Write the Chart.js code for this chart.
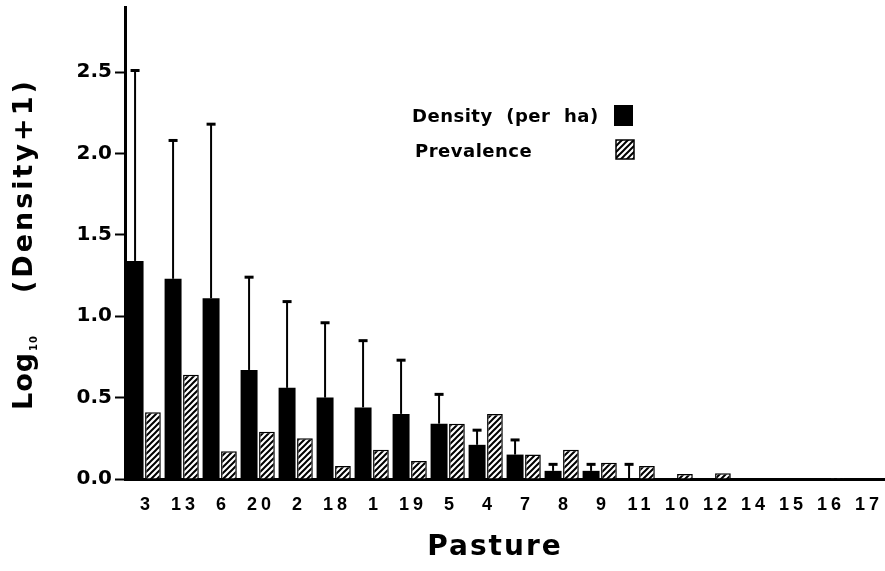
<!DOCTYPE html>
<html>
<head>
<meta charset="utf-8">
<script src="https://cdn.jsdelivr.net/npm/chart.js@4.4.0/dist/chart.umd.min.js"></script>
<style>
  html, body { margin: 0; padding: 0; background: #fff; }
  canvas { display: block; }
</style>
</head>
<body>
<canvas id="chart" width="885" height="571"></canvas>
<script>
// pasture order as printed along the x axis
const pastures = ['3', '13', '6', '20', '2', '18', '1', '19', '5', '4', '7', '8', '9', '11', '10', '12', '14', '15', '16', '17'];
// log10(density+1), black bars
const density = [1.34, 1.23, 1.11, 0.67, 0.56, 0.50, 0.44, 0.40, 0.34, 0.21, 0.15, 0.05, 0.05, 0.005, 0, 0, 0, 0.005, 0, 0];
// top of the error bar on the density bars
const densityUpper = [2.51, 2.08, 2.18, 1.24, 1.09, 0.96, 0.85, 0.73, 0.52, 0.30, 0.24, 0.09, 0.09, 0.09, null, null, null, null, null, null];
// prevalence, hatched bars
const prevalence = [0.41, 0.64, 0.17, 0.29, 0.25, 0.08, 0.18, 0.11, 0.34, 0.40, 0.15, 0.18, 0.10, 0.08, 0.03, 0.035, 0, 0, 0.005, 0];
const yTicks = [0, 0.5, 1, 1.5, 2, 2.5];

const FONT = "'DejaVu Sans', 'Liberation Sans', Arial, sans-serif";
const NARROW = "'Liberation Sans Narrow', 'Liberation Sans', Arial, sans-serif";

function makeHatch() {
  const s = 6;
  const c = document.createElement('canvas');
  c.width = s; c.height = s;
  const g = c.getContext('2d');
  g.fillStyle = '#fff';
  g.fillRect(0, 0, s, s);
  g.strokeStyle = '#000';
  g.lineWidth = 2;
  g.beginPath();
  g.moveTo(0, s); g.lineTo(s, 0);
  g.moveTo(-1, 1); g.lineTo(1, -1);
  g.moveTo(s - 1, s + 1); g.lineTo(s + 1, s - 1);
  g.stroke();
  return document.getElementById('chart').getContext('2d').createPattern(c, 'repeat');
}
const hatch = makeHatch();

const decor = {
  id: 'decor',
  beforeDraw(chart) {
    const ctx = chart.ctx;
    ctx.save();
    ctx.fillStyle = '#fff';
    ctx.fillRect(0, 0, chart.width, chart.height);
    ctx.restore();
  },
  afterDatasetsDraw(chart) {
    // upward error bars on the density bars
    const ctx = chart.ctx;
    const meta = chart.getDatasetMeta(0);
    const y = chart.scales.y;
    ctx.save();
    ctx.strokeStyle = '#000';
    densityUpper.forEach((v, i) => {
      if (v == null) return;
      const bar = meta.data[i];
      const yt = y.getPixelForValue(v);
      ctx.lineWidth = 2;
      ctx.beginPath();
      ctx.moveTo(bar.x, bar.y);
      ctx.lineTo(bar.x, yt);
      ctx.stroke();
      ctx.lineWidth = 3;
      ctx.beginPath();
      ctx.moveTo(bar.x - 4.5, yt);
      ctx.lineTo(bar.x + 4.5, yt);
      ctx.stroke();
    });
    ctx.restore();
  },
  afterDraw(chart) {
    const ctx = chart.ctx;
    const x = chart.scales.x;
    ctx.save();
    ctx.fillStyle = '#000';

    // category labels
    ctx.font = 'bold 18px ' + NARROW;
    ctx.letterSpacing = '4px';
    ctx.textAlign = 'center';
    ctx.textBaseline = 'middle';
    pastures.forEach((p, i) => {
      ctx.fillText(p, x.getPixelForValue(i) + 3, 505);
    });

    // x title
    ctx.font = 'bold 28px ' + FONT;
    ctx.letterSpacing = '2px';
    ctx.textBaseline = 'alphabetic';
    ctx.fillText('Pasture', 495, 555);

    // y title with subscript
    ctx.save();
    ctx.translate(32, 410);
    ctx.rotate(-Math.PI / 2);
    ctx.textAlign = 'left';
    ctx.font = 'bold 27px ' + FONT;
    ctx.letterSpacing = '1px';
    ctx.fillText('Log', 0, 0);
    const w = ctx.measureText('Log').width;
    ctx.font = 'bold 10px ' + FONT;
    ctx.letterSpacing = '1px';
    ctx.fillText('10', w + 1, 5);
    ctx.font = 'bold 27px ' + FONT;
    ctx.letterSpacing = '3px';
    ctx.fillText('(Density+1)', 117, 0);
    ctx.restore();

    // legend
    ctx.textAlign = 'left';
    ctx.font = 'bold 18px ' + FONT;
    ctx.letterSpacing = '0.5px';
    ctx.fillText('Density  (per  ha)', 412, 122);
    ctx.fillText('Prevalence', 415, 157);
    ctx.fillStyle = '#000';
    ctx.fillRect(614, 105, 19, 21);
    ctx.fillStyle = hatch;
    ctx.fillRect(616, 140, 18, 19);
    ctx.strokeStyle = '#000';
    ctx.lineWidth = 1.5;
    ctx.strokeRect(616, 140, 18, 19);
    ctx.restore();
  }
};

new Chart(document.getElementById('chart'), {
  type: 'bar',
  data: {
    labels: pastures,
    datasets: [
      {
        label: 'Density (per ha)',
        data: density,
        backgroundColor: '#000',
        borderWidth: 0,
        barPercentage: 0.95,
        categoryPercentage: 0.94
      },
      {
        label: 'Prevalence',
        data: prevalence,
        backgroundColor: hatch,
        borderColor: '#000',
        borderWidth: 1.5,
        barPercentage: 0.88,
        categoryPercentage: 0.94
      }
    ]
  },
  options: {
    responsive: false,
    animation: false,
    layout: { padding: { top: 7, right: 0, bottom: 0, left: 0 } },
    plugins: {
      legend: { display: false },
      tooltip: { enabled: false },
      title: { display: false }
    },
    scales: {
      x: {
        grid: { display: false },
        border: { color: '#000', width: 3 },
        ticks: { display: false },
        afterFit: s => { s.height = 92; s.paddingLeft = 0; s.paddingRight = 0; }
      },
      y: {
        min: 0,
        max: 2.9,
        afterBuildTicks: s => { s.ticks = yTicks.map(v => ({ value: v })); },
        ticks: {
          callback: v => Number(v).toFixed(1),
          color: '#000',
          font: { family: FONT, size: 20, weight: 'bold' },
          padding: 3
        },
        grid: { drawOnChartArea: false, tickLength: 10, tickWidth: 2, color: '#000' },
        border: { color: '#000', width: 3 },
        afterFit: s => { s.width = 125; s.paddingTop = 0; s.paddingBottom = 0; }
      }
    }
  },
  plugins: [decor]
});
</script>
</body>
</html>
